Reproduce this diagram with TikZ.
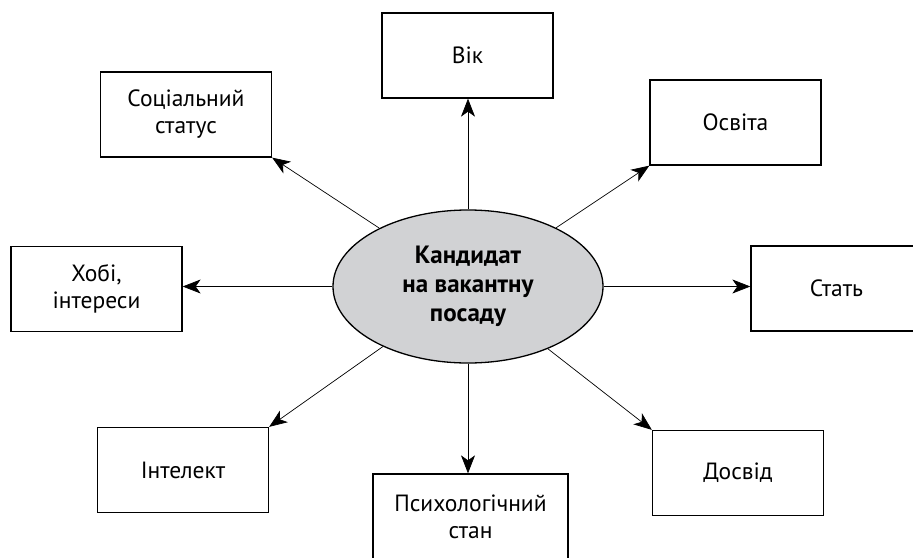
\documentclass[tikz,border=0pt]{standalone}
\usepackage{fontspec}
\setmainfont{PT Sans}
\usetikzlibrary{shapes.geometric,arrows.meta}
\definecolor{cgray}{RGB}{209,210,212}

\begin{document}
\begin{tikzpicture}[x=1pt,y=-1pt,
    box/.style={draw, line width=1.3pt, minimum width=171pt, minimum height=85pt,
        align=center, font=\fontsize{23.5}{27}\selectfont},
    arr/.style={-{Stealth[length=18pt,width=14pt,inset=5pt]}, line width=0.7pt}]
    \useasboundingbox (0,0) rectangle (913,557);

    \node[ellipse, draw, fill=cgray, line width=1.3pt, minimum width=270pt,
        minimum height=153pt, align=center, inner sep=0pt,
        font=\bfseries\fontsize{25}{29}\selectfont] (cand) at (468,286.5)
        {Кандидат\\на вакантну\\посаду};

    \node[box] (vik) at (467.5,55.5) {Вік};
    \node[box] (soc) at (186,114.5) {Соціальний\\статус};
    \node[box] (osv) at (735.5,122.5) {Освіта};
    \node[box] (hobi) at (96.5,289) {Хобі,\\інтереси};
    \node[box] (stat) at (836.5,288.5) {Стать};
    \node[box] (int) at (183,470) {Інтелект};
    \node[box, minimum width=195pt] (psych) at (470.5,516.5) {Психологічний\\стан};
    \node[box] (dosv) at (738,473) {Досвід};

    \draw[arr] (cand.north) -- (cand.north |- vik.south);
    \draw[arr] (cand) -- (soc.south east);
    \draw[arr] (cand) -- (osv.south west);
    \draw[arr] (cand.west) -- (cand.west -| hobi.east);
    \draw[arr] (cand.east) -- (cand.east -| stat.west);
    \draw[arr] (cand) -- (int.north east);
    \draw[arr] (cand.south) -- (cand.south |- psych.north);
    \draw[arr] (cand) -- (dosv.north west);
\end{tikzpicture}
\end{document}
